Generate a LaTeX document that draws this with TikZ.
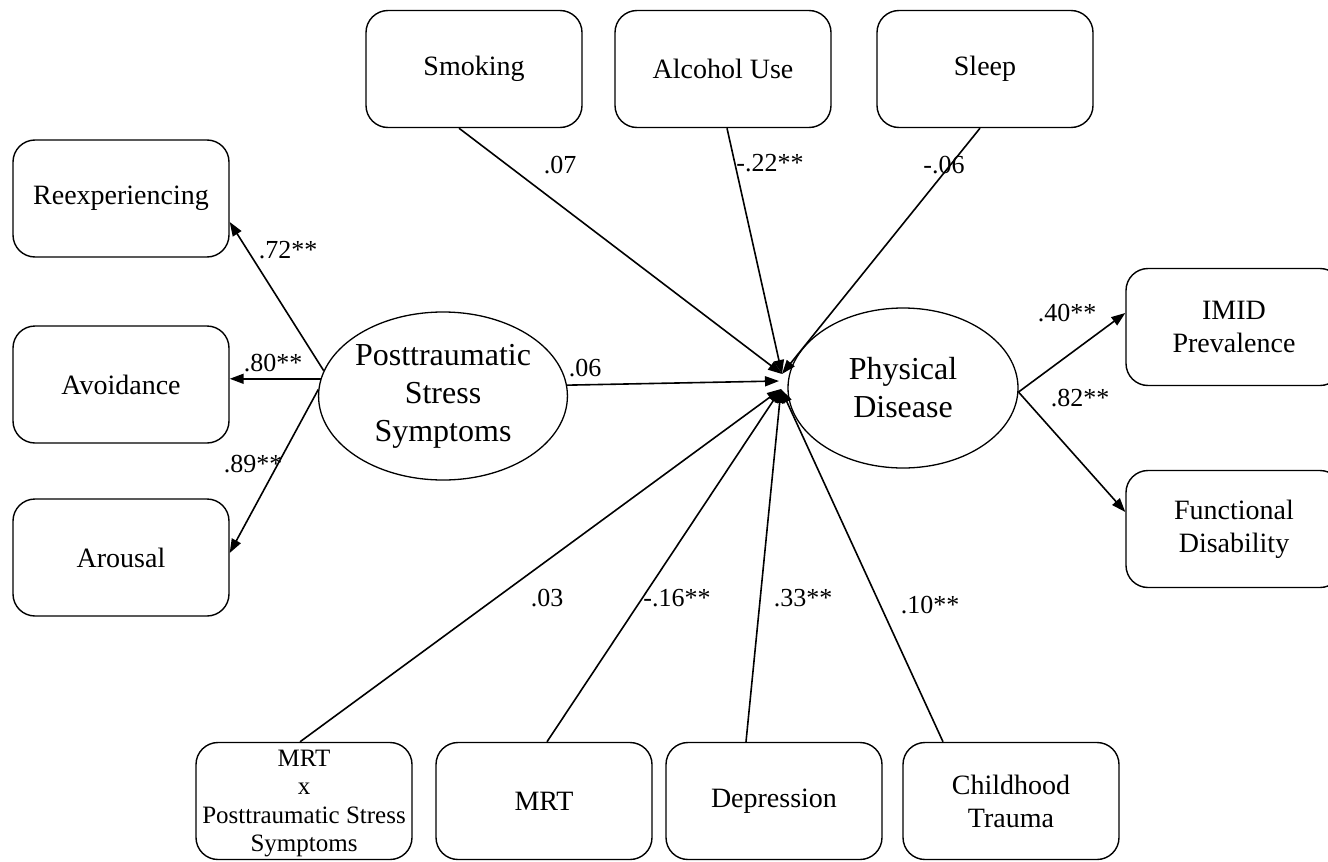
\documentclass[tikz,border=0pt]{standalone}
\usepackage{fontspec}
\setmainfont{Liberation Serif}
\usetikzlibrary{arrows.meta,shapes.geometric}
\begin{document}
\begin{tikzpicture}[x=1pt,y=-1pt,
 box/.style={draw,line width=1.4pt,rounded corners=22pt,minimum width=216pt,minimum height=117pt,inner sep=0pt,align=center,font=\fontsize{28}{33}\selectfont},
 lat/.style={draw,ellipse,line width=1.3pt,inner sep=0pt,align=center,font=\fontsize{32}{38}\selectfont},
 arr/.style={line width=1.6pt,-{Triangle[length=14pt,width=10pt]}},
 lbl/.style={font=\fontsize{26}{30}\selectfont,inner sep=0pt}]
\useasboundingbox (0,0) rectangle (1328,862);
\node[box] (reexp) at (121,198.5) {Reexperiencing};
\node[box] (avoid) at (121,384.5) {Avoidance};
\node[box] (arousal) at (121,557.5) {Arousal};
\node[box] (smoking) at (474,69) {Smoking};
\node[box] (alcohol) at (723,69) {Alcohol Use};
\node[box] (sleep) at (985,69) {Sleep};
\node[box] (imid) at (1234,327) {IMID\\Prevalence};
\node[box] (func) at (1234,529) {Functional\\Disability};
\node[box,font=\fontsize{25}{28.5}\selectfont,text depth=-5pt] (mrtx) at (304,801) {MRT\\x\\Posttraumatic Stress\\Symptoms};
\node[box] (mrt) at (544,801) {MRT};
\node[box] (dep) at (774,801) {Depression};
\node[box] (child) at (1011,801) {Childhood\\Trauma};
\node[lat,minimum width=230pt,minimum height=168pt] (ptss) at (443,396) {Posttraumatic\\Stress\\Symptoms};
\node[lat,minimum width=230pt,minimum height=160pt] (pd) at (903,388) {Physical\\Disease};
\coordinate (hubT) at (782,374);
\coordinate (hubL) at (779,381);
\coordinate (hubB) at (781,389);
\draw[arr] ([xshift=-15pt]smoking.south) -- (hubT);
\draw[arr] ([xshift=4pt]alcohol.south) -- (hubT);
\draw[arr] ([xshift=-5pt]sleep.south) -- (hubT);
\draw[arr] (ptss.5) -- (hubL);
\draw[arr] ([xshift=-4pt]mrtx.north) -- (hubB);
\draw[arr] ([xshift=3pt]mrt.north) -- (hubB);
\draw[arr] ([xshift=-28pt]dep.north) -- (hubB);
\draw[arr] ([xshift=-68pt]child.north) -- (hubB);
\draw[arr] (ptss.168) -- ([yshift=-23.5pt]reexp.east);
\draw[arr] (ptss.172) -- (avoid.east |- ptss.172);
\draw[arr] (ptss.177) -- ([yshift=4.5pt]arousal.east);
\draw[arr] (pd.-2) -- ([yshift=14pt]imid.west);
\draw[arr] (pd.-2) -- ([yshift=17pt]func.west);
\node[lbl] (l1) at (560,165) {.07};
\node[lbl] (l2) at (770,163) {-.22**};
\node[lbl] (l3) at (944,165) {-.06};
\node[lbl] (l4) at (288,250) {.72**};
\node[lbl] (l5) at (273,363) {.80**};
\node[lbl] (l6) at (253,464) {.89**};
\node[lbl] (l7) at (585,368) {.06};
\node[lbl] (l8) at (1067,313) {.40**};
\node[lbl] (l9) at (1080,398) {.82**};
\node[lbl] (l10) at (547,598) {.03};
\node[lbl] (l11) at (677,598) {-.16**};
\node[lbl] (l12) at (803,598) {.33**};
\node[lbl] (l13) at (930,605) {.10**};
\end{tikzpicture}
\end{document}
